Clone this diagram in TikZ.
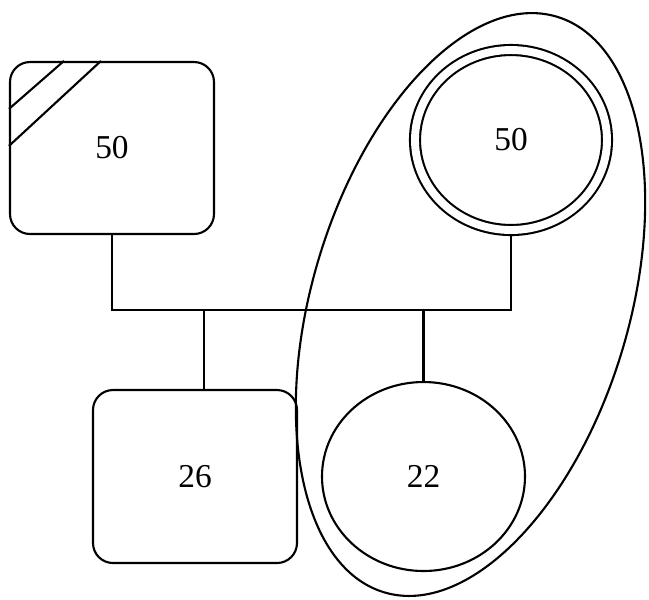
\documentclass[tikz,border=0pt]{standalone}
\usepackage{fontspec}
\setmainfont{Liberation Serif}
\usepackage{tikz}
\usetikzlibrary{positioning,shapes.geometric,calc}

\begin{document}
\begin{tikzpicture}[
    semithick,
    male/.style={draw, rounded corners=0.2cm, minimum width=2.04cm, minimum height=1.72cm, font=\fontsize{9.5}{11}\selectfont},
    female/.style={draw, ellipse, minimum width=2.03cm, minimum height=1.89cm, font=\fontsize{9.5}{11}\selectfont},
    link/.style={draw=black}
]
\useasboundingbox (0,0) rectangle (6.49,-5.99);
\node[male] (father) at (1.12,-1.48) {50};
\node[female, double, double distance=2.25pt, outer sep=1.7pt, minimum width=1.92cm, minimum height=1.80cm] (mother) at (5.11,-1.40) {50};
\node[male, minimum height=1.73cm] (son) at (1.95,-4.765) {26};
\node[female] (daughter) at (4.235,-4.765) {22};
\node[draw, ellipse, minimum width=3.17cm, minimum height=6.01cm, rotate=-16.7] (household) at (4.705,-3.045) {};
% deceased mark
\draw[link] ($(father.north west)+(0.55,0)$) -- ($(father.north west)+(0,-0.48)$);
\draw[link] ($(father.north west)+(0.92,0)$) -- ($(father.north west)+(0,-0.85)$);
% marriage and children
\coordinate (bar) at (2.04,-3.10);
\draw[link] (father.south) |- (bar) -| (mother.south);
\draw[link] (bar) -- (son.north -| bar);
\draw[link] (daughter.north) -- (daughter.north |- bar);
\end{tikzpicture}
\end{document}
